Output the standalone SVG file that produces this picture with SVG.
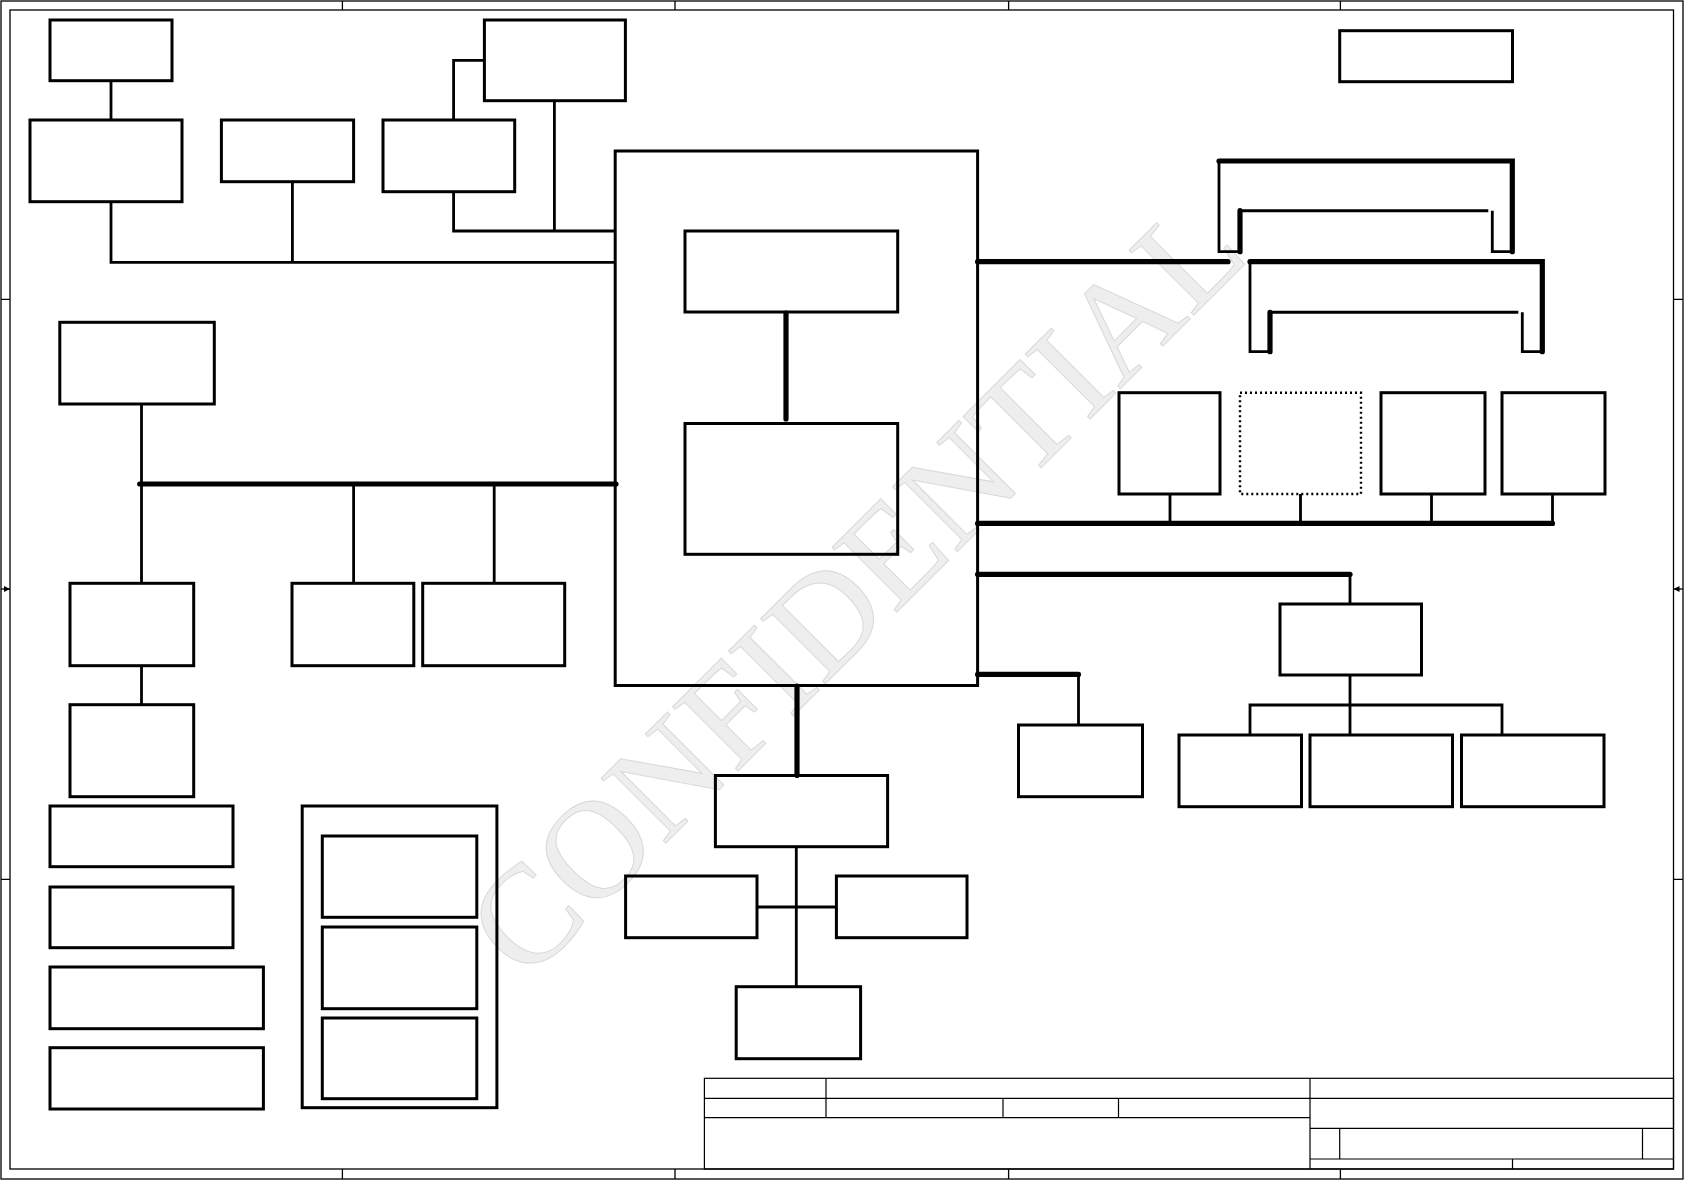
<svg xmlns="http://www.w3.org/2000/svg" width="1684" height="1190" viewBox="0 0 1684 1190">
<defs>
<style>
.frame{fill:none;stroke:#000;stroke-width:1.3}
.tb{fill:none;stroke:#000;stroke-width:1.2}
.node{fill:none;stroke:#000;stroke-width:3}
.dot{fill:none;stroke:#000;stroke-width:2.4;stroke-dasharray:2 3}
.w{fill:none;stroke:#000;stroke-width:2.8}
.bus{fill:none;stroke:#000;stroke-width:5.2;stroke-linecap:round}
.thin{fill:none;stroke:#000;stroke-width:2.8}
.mid{fill:none;stroke:#000;stroke-width:3}
.thk{fill:none;stroke:#000;stroke-width:5.2;stroke-linecap:round}
.wm{font-family:"Liberation Serif","Times New Roman",serif;font-size:140px;fill:#eeeeee;stroke:#d9d9d9;stroke-width:1}
</style>
<marker id="arr" viewBox="0 0 6 6" refX="6" refY="3" markerWidth="6" markerHeight="6" markerUnits="userSpaceOnUse" orient="auto">
<path d="M0,0 L6,3 L0,6 z" fill="#000"/>
</marker>
</defs>
<rect x="0" y="0" width="1684" height="1190" fill="#fff"/>
<text class="wm" transform="translate(856,588) rotate(-45)" text-anchor="middle" y="46">CONFIDENTIAL</text>

<g id="frame">
<rect class="frame" x="1" y="1" width="1682" height="1178"/>
<rect class="frame" x="10" y="10" width="1663.5" height="1159"/>
<path class="frame" d="M342.4,1V10 M675,1V10 M1008.6,1V10 M1340.4,1V10 M342.4,1169V1179 M675,1169V1179 M1008.6,1169V1179 M1340.4,1169V1179 M1,299.3H10 M1,879.3H10 M1673.5,299.3H1683 M1673.5,879.3H1683"/>
<path class="frame" d="M1,589H10" marker-end="url(#arr)"/>
<path class="frame" d="M1683,589H1673.5" marker-end="url(#arr)"/>
</g>

<g id="title-block">
<rect class="tb" x="704.4" y="1078.3" width="969.1" height="90.7"/>
<path class="tb" d="M704.4,1098.3H1673.5 M826,1078.3V1117.7 M1310,1078.3V1169 M704.4,1117.7H1310 M1003,1098.3V1117.7 M1118.5,1098.3V1117.7 M1310,1128.3H1673.5 M1339.7,1128.3V1159 M1642.5,1128.3V1159 M1310,1159H1673.5 M1512.5,1159V1169"/>
</g>

<g id="connectors">
<path class="w" d="M111,80.7V120"/>
<path class="w" d="M111,201.7V262.3H615.2"/>
<path class="w" d="M292.4,181.7V262.3"/>
<path class="w" d="M453.6,120V60.3H484.4"/>
<path class="w" d="M453.6,191.7V231H615.2"/>
<path class="w" d="M554.4,100.7V231"/>
<path class="bus" d="M139.7,484H616"/>
<path class="w" d="M141.5,404V583.3"/>
<path class="w" d="M353.6,484V583.3"/>
<path class="w" d="M494.2,484V583.3"/>
<path class="w" d="M141.5,665.7V704.7"/>
<path class="bus" d="M786,313V419"/>
<path class="bus" d="M797,686V775.5"/>
<path class="w" d="M796.3,846.7V986.7"/>
<path class="w" d="M757,907H836.4"/>
<path class="bus" d="M977.6,261.7H1228"/>
<path class="bus" d="M977.6,523.4H1552.5"/>
<path class="w" d="M1170,494V523.4 M1300.5,494V523.4 M1431.5,494V523.4 M1552.5,494V523.4"/>
<path class="bus" d="M977.6,574.3H1350"/>
<path class="w" d="M1350,574.3V604"/>
<path class="w" d="M1350,675V735 M1250,735V705H1502V735"/>
<path class="bus" d="M977.6,674.4H1078.5"/>
<path class="w" d="M1078.5,674.4V725"/>
</g>

<g id="dimm1">
<path class="thk" d="M1219,161H1512.3V251.7"/>
<path class="thin" d="M1219,161V251.7H1240"/>
<path class="thk" d="M1240,251.7V210.7"/>
<path class="mid" d="M1240,210.7H1488.3"/>
<path class="thin" d="M1492.3,210.7V251.7H1512.3"/>
</g>
<g id="dimm2">
<path class="thk" d="M1250,261.7H1542.3V351.7"/>
<path class="thin" d="M1250,261.7V351.7H1270"/>
<path class="thk" d="M1270,351.7V312.3"/>
<path class="mid" d="M1270,312.3H1518.3"/>
<path class="thin" d="M1522.3,312.3V351.7H1542.3"/>
</g>

<g id="n-a"><rect class="node" x="50" y="20" width="122" height="60.7"/></g>
<g id="n-b"><rect class="node" x="30" y="120" width="152" height="81.7"/></g>
<g id="n-c"><rect class="node" x="221.4" y="120" width="132.2" height="61.7"/></g>
<g id="n-d"><rect class="node" x="383" y="120" width="131.7" height="71.7"/></g>
<g id="n-e"><rect class="node" x="484.4" y="20" width="141" height="80.7"/></g>
<g id="n-topright"><rect class="node" x="1339.7" y="30.7" width="172.8" height="51"/></g>
<g id="n-cpu"><rect class="node" x="615.2" y="151" width="362.4" height="534.5"/></g>
<g id="n-cpu-in1"><rect class="node" x="685" y="231" width="212.7" height="81"/></g>
<g id="n-cpu-in2"><rect class="node" x="685" y="423.5" width="212.7" height="130.8"/></g>
<g id="n-f"><rect class="node" x="59.8" y="322.3" width="154.5" height="81.7"/></g>
<g id="n-j"><rect class="node" x="70" y="583.3" width="123.7" height="82.4"/></g>
<g id="n-k"><rect class="node" x="292" y="583.3" width="121.8" height="82.4"/></g>
<g id="n-l"><rect class="node" x="422.7" y="583.3" width="142" height="82.4"/></g>
<g id="n-m"><rect class="node" x="70" y="704.7" width="123.7" height="92"/></g>
<g id="n-n1"><rect class="node" x="50" y="806" width="183" height="60.7"/></g>
<g id="n-n2"><rect class="node" x="50" y="887" width="183" height="60.7"/></g>
<g id="n-n3"><rect class="node" x="50" y="967" width="213.4" height="61.7"/></g>
<g id="n-n4"><rect class="node" x="50" y="1047.7" width="213.4" height="61.3"/></g>
<g id="n-container"><rect class="node" x="302.2" y="806" width="194.7" height="301.7"/></g>
<g id="n-p1"><rect class="node" x="322.3" y="836" width="154.5" height="81.3"/></g>
<g id="n-p2"><rect class="node" x="322.3" y="927" width="154.5" height="81.7"/></g>
<g id="n-p3"><rect class="node" x="322.3" y="1018" width="154.5" height="80.7"/></g>
<g id="n-q"><rect class="node" x="715.4" y="775.5" width="172.2" height="71.2"/></g>
<g id="n-r1"><rect class="node" x="625.6" y="876" width="131.4" height="61.7"/></g>
<g id="n-r2"><rect class="node" x="836.4" y="876" width="130.6" height="61.7"/></g>
<g id="n-s"><rect class="node" x="736.2" y="986.7" width="124.4" height="72"/></g>
<g id="n-row1"><rect class="node" x="1119" y="392.7" width="101" height="101.3"/></g>
<g id="n-row2"><rect class="dot" x="1240" y="392.7" width="121" height="101.3"/></g>
<g id="n-row3"><rect class="node" x="1381" y="392.7" width="104" height="101.3"/></g>
<g id="n-row4"><rect class="node" x="1502" y="392.7" width="103" height="101.3"/></g>
<g id="n-g"><rect class="node" x="1280" y="604" width="141.5" height="71"/></g>
<g id="n-h1"><rect class="node" x="1179" y="735" width="122.5" height="71.7"/></g>
<g id="n-h2"><rect class="node" x="1310" y="735" width="142.5" height="71.7"/></g>
<g id="n-h3"><rect class="node" x="1461.5" y="735" width="142.5" height="71.7"/></g>
<g id="n-i"><rect class="node" x="1018.5" y="725" width="124" height="71.7"/></g>
</svg>
